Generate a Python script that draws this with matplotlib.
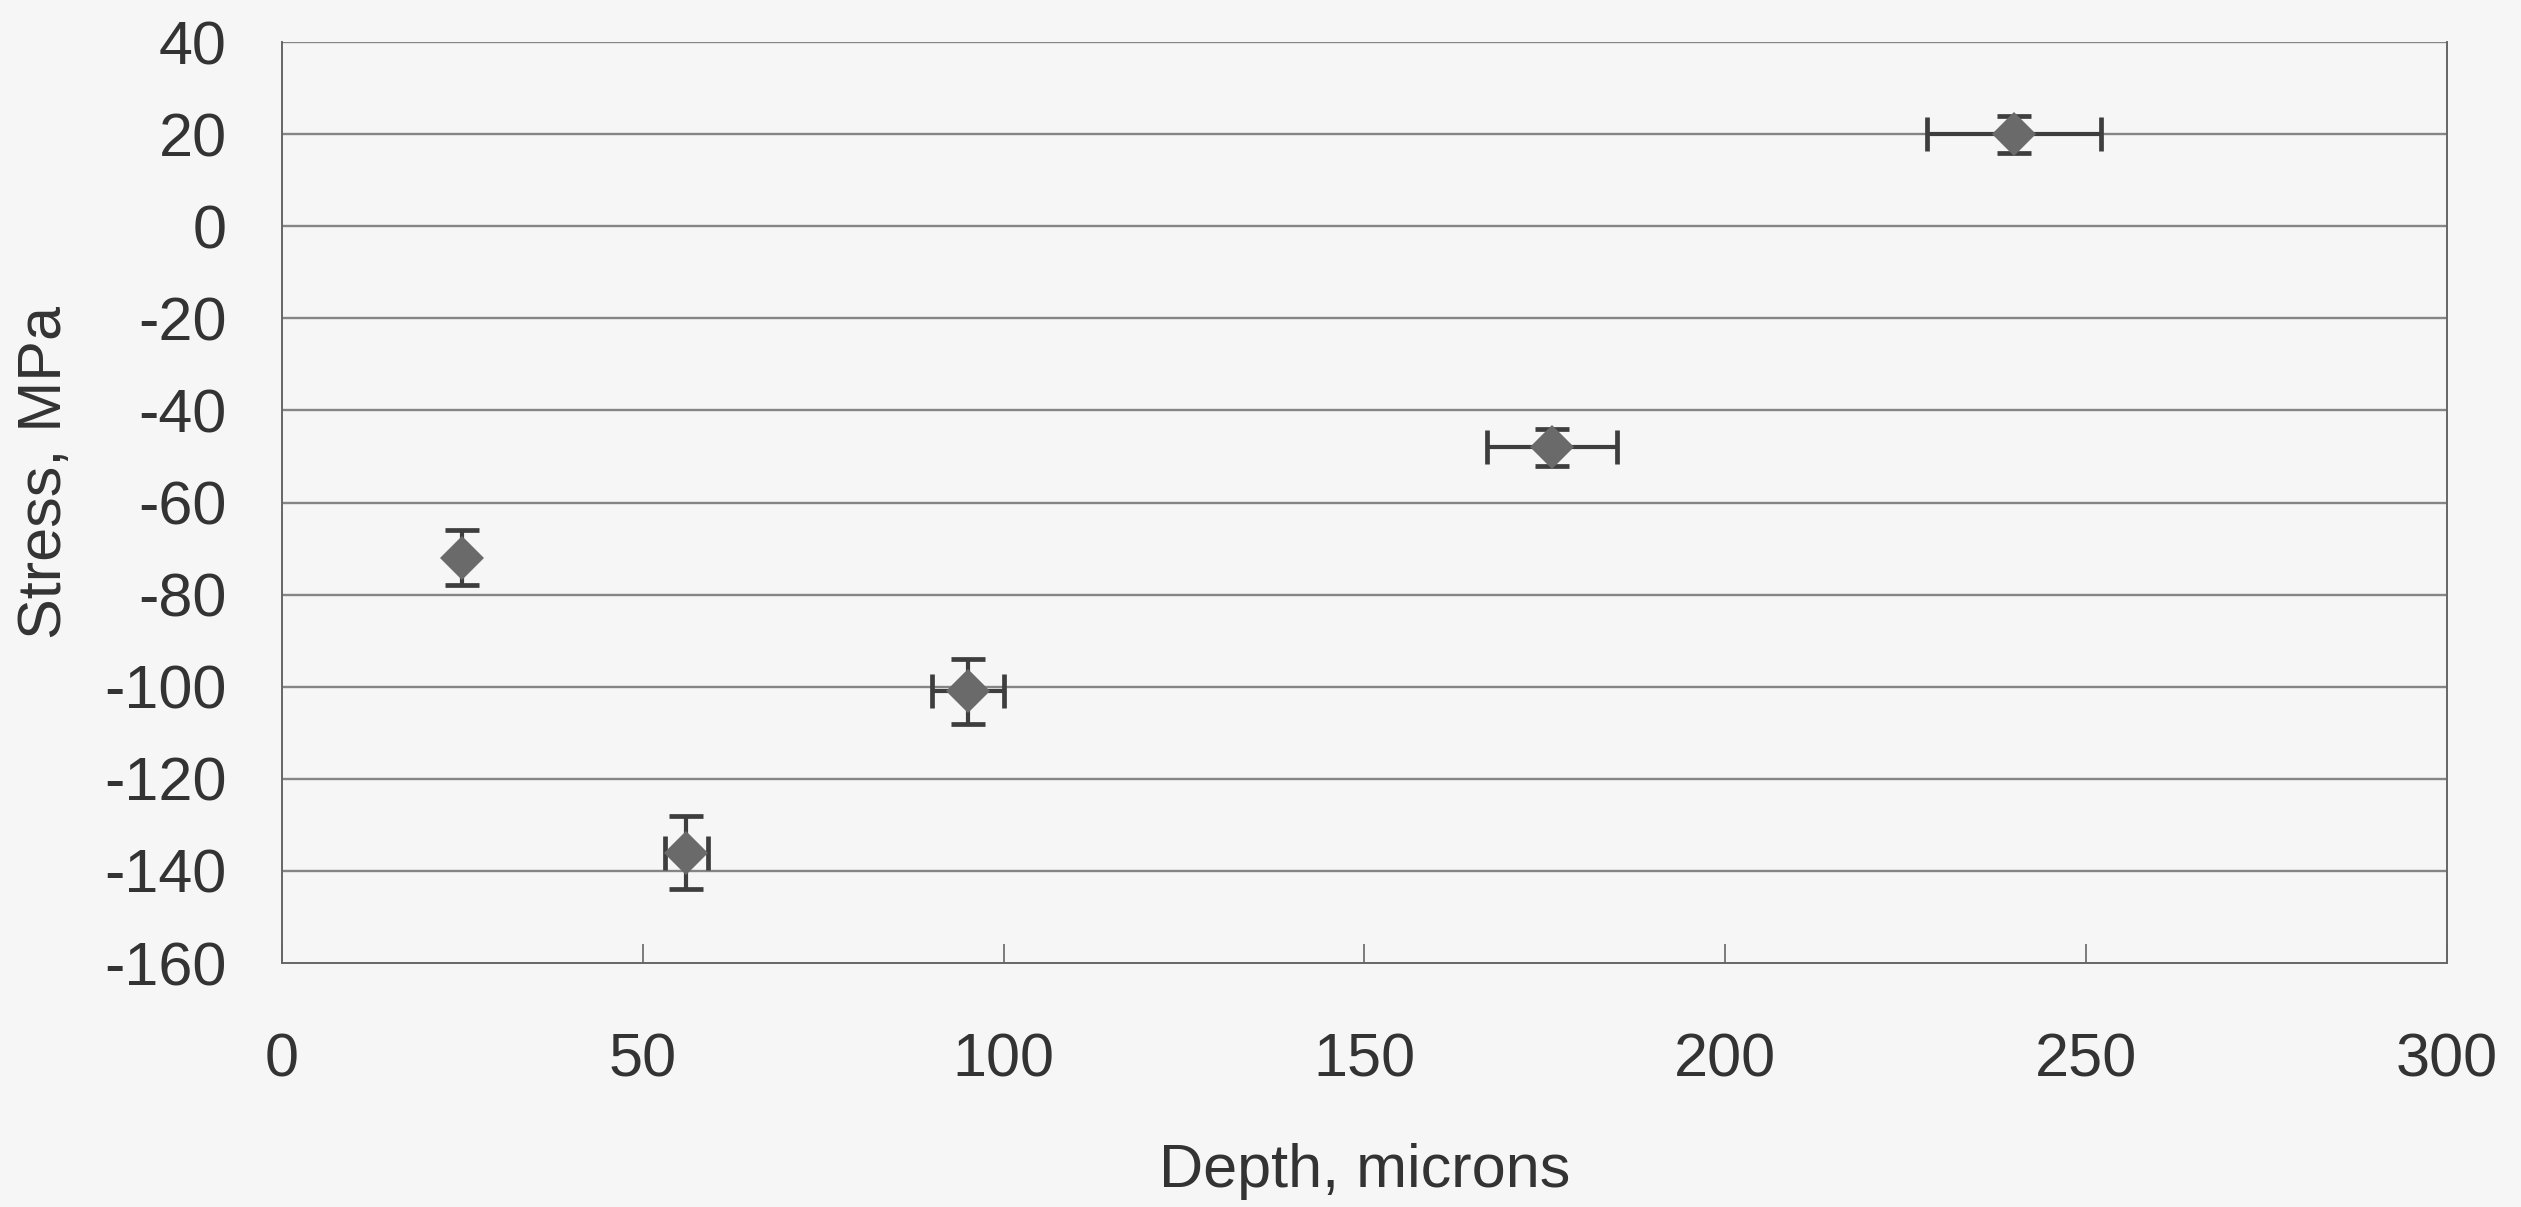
import matplotlib
matplotlib.use("Agg")
import matplotlib.pyplot as plt

# values
depth = [25, 56, 95, 176, 240]
stress = [-72, -136, -101, -48, 20]
depth_err = [0, 3, 5, 9, 12]
stress_err = [6, 8, 7, 4, 4]

x_ticks = [0, 50, 100, 150, 200, 250, 300]
y_ticks = [40, 20, 0, -20, -40, -60, -80, -100, -120, -140, -160]

BG = "#f6f6f6"
GRID = "#858585"
BAR = "#3e3e3e"
MARK = "#6a6a6a"
TXT = "#333333"

plt.rcParams["font.family"] = ["Liberation Sans", "DejaVu Sans"]
plt.rcParams["axes.unicode_minus"] = False  # plain hyphens like the original

fig = plt.figure(figsize=(25.21, 12.07), dpi=100, facecolor=BG)
ax = fig.add_axes([0.1119, 0.2021, 0.8587, 0.7631], facecolor=BG)

ax.set_xlim(0, 300)
ax.set_ylim(-160, 40)
ax.set_xticks(x_ticks)
ax.set_yticks(y_ticks)

for yv in y_ticks[:-1]:
    ax.axhline(yv, color=GRID, lw=1.7, zorder=1)

ax.errorbar(depth, stress, xerr=depth_err, yerr=stress_err, fmt="none",
            ecolor=BAR, elinewidth=3, capsize=12, capthick=3.4, zorder=3)
ax.plot(depth, stress, linestyle="none", marker="D", markersize=22,
        color=MARK, markeredgewidth=0, zorder=4)

for side in ["left", "right", "bottom"]:
    ax.spines[side].set_color("#666666")
    ax.spines[side].set_linewidth(1.4)
ax.spines["top"].set_visible(False)

ax.tick_params(axis="x", direction="in", length=14, width=1.2, color="#666666",
               pad=50, labelsize=44, labelcolor=TXT)
ax.tick_params(axis="y", length=0, pad=40, labelsize=44, labelcolor=TXT)

ax.set_xlabel("Depth, microns", fontsize=44, color=TXT)
ax.set_ylabel("Stress, MPa", fontsize=44, color=TXT)
ax.xaxis.label.set_va("center")
ax.yaxis.label.set_va("center")
ax.xaxis.set_label_coords(0.5, -0.226)
ax.yaxis.set_label_coords(-0.1095, 0.533)

fig.savefig("out.png", dpi=100, facecolor=BG)
